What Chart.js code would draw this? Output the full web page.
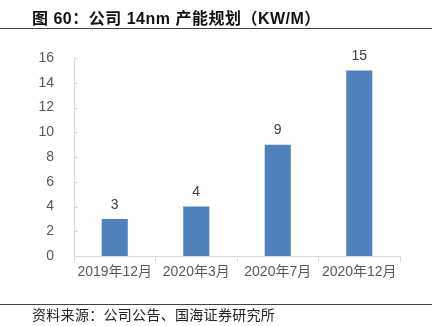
<!DOCTYPE html>
<html>
<head>
<meta charset="utf-8">
<script src="https://cdn.jsdelivr.net/npm/chart.js@4/dist/chart.umd.min.js"></script>
<style>
  html, body { margin: 0; padding: 0; background: #fff; }
  #wrap { position: relative; width: 442px; height: 326px; overflow: hidden; }
  #title {
    position: absolute; left: 32px; top: 5px;
    font: bold 16px "Liberation Sans", "Noto Sans CJK SC", sans-serif;
    letter-spacing: 0.5px;
    color: #111; white-space: nowrap;
  }
  .rule { position: absolute; left: 0; width: 432px; height: 1px; background: #444; }
  #source {
    position: absolute; left: 32px; top: 304px;
    font: 14px "Noto Sans CJK SC", sans-serif;
    letter-spacing: 0.3px;
    color: #222; white-space: nowrap;
  }
  #chartBox { position: absolute; left: 0; top: 0; width: 442px; height: 326px; }
</style>
</head>
<body>
<div id="wrap">
  <div id="chartBox"><canvas id="chart"></canvas></div>
  <div id="title">图 60：公司 14nm 产能规划（KW/M）</div>
  <div class="rule" style="top:28px"></div>
  <div class="rule" style="top:304px"></div>
  <div id="source">资料来源：公司公告、国海证券研究所</div>
</div>
<script>
// 数据
const categories = ['2019年12月', '2020年3月', '2020年7月', '2020年12月'];
const capacity = [3, 4, 9, 15];
const yTicks = [0, 2, 4, 6, 8, 10, 12, 14, 16];

const textGray = '#595959';
const axisGray = '#D9D9D9';

// 柱顶数值
const valueLabels = {
    id: 'valueLabels',
    afterDatasetsDraw(chart) {
        const ctx = chart.ctx;
        const meta = chart.getDatasetMeta(0);
        ctx.save();
        ctx.font = '14px "Liberation Sans", Arial, sans-serif';
        ctx.fillStyle = '#404040';
        ctx.textAlign = 'center';
        ctx.textBaseline = 'middle';
        meta.data.forEach((bar, i) => {
            ctx.fillText(String(capacity[i]), bar.x, bar.y - 14);
        });
        ctx.restore();
    }
};

// y轴小刻度（朝右）
const yTickMarks = {
    id: 'yTickMarks',
    afterDraw(chart) {
        const ctx = chart.ctx;
        const y = chart.scales.y;
        ctx.save();
        ctx.strokeStyle = axisGray;
        ctx.lineWidth = 1;
        yTicks.forEach(v => {
            const py = Math.round(y.getPixelForValue(v)) + 0.5;
            ctx.beginPath();
            ctx.moveTo(y.right, py);
            ctx.lineTo(y.right + 4, py);
            ctx.stroke();
        });
        ctx.restore();
    }
};

new Chart(document.getElementById('chart'), {
    type: 'bar',
    data: {
        labels: categories,
        datasets: [{
            data: capacity,
            backgroundColor: '#4F81BD',
            borderWidth: 0,
            categoryPercentage: 1,
            barPercentage: 0.32
        }]
    },
    options: {
        responsive: true,
        maintainAspectRatio: false,
        animation: false,
        layout: { padding: { top: 58, right: 42, left: 0, bottom: 0 } },
        plugins: {
            legend: { display: false },
            tooltip: { enabled: false }
        },
        scales: {
            x: {
                afterFit: s => { s.height = 326 - 256; },
                grid: { drawOnChartArea: false, tickLength: 6, color: axisGray, offset: true },
                border: { color: axisGray },
                ticks: {
                    color: textGray,
                    padding: 2,
                    maxRotation: 0,
                    autoSkip: false,
                    font: { size: 14, family: '"Liberation Sans", "Noto Sans CJK SC", sans-serif' }
                }
            },
            y: {
                min: 0,
                max: 16,
                afterFit: s => { s.width = 74; },
                afterBuildTicks: s => { s.ticks = yTicks.map(v => ({ value: v })); },
                grid: { display: false },
                border: { color: axisGray },
                ticks: {
                    color: textGray,
                    padding: 12,
                    font: { size: 14, family: '"Liberation Sans", Arial, sans-serif' }
                }
            }
        }
    },
    plugins: [valueLabels, yTickMarks]
});
</script>
</body>
</html>
